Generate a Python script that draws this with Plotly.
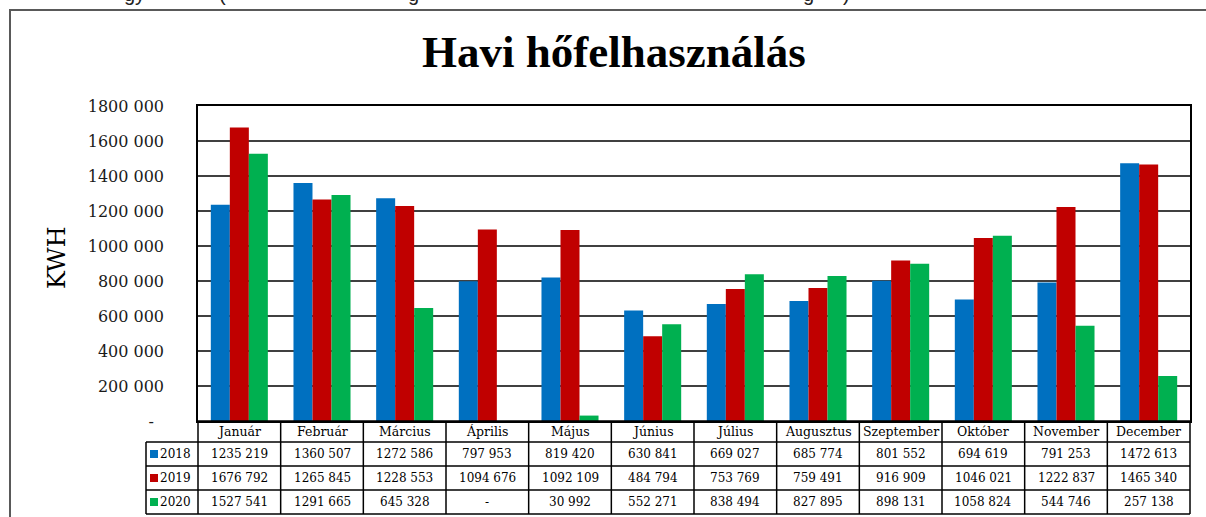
import plotly.graph_objects as go

months = ["Január", "Február", "Március", "Április", "Május", "Június",
          "Július", "Augusztus", "Szeptember", "Október", "November", "December"]
years = ["2018", "2019", "2020"]
v2018 = [1235219, 1360507, 1272586, 797953, 819420, 630841,
         669027, 685774, 801552, 694619, 791253, 1472613]
v2019 = [1676792, 1265845, 1228553, 1094676, 1092109, 484794,
         753769, 759491, 916909, 1046021, 1222837, 1465340]
v2020 = [1527541, 1291665, 645328, None, 30992, 552271,
         838494, 827895, 898131, 1058824, 544746, 257138]
colors = ["#0070C0", "#C00000", "#00B050"]
tick_vals = [0, 200000, 400000, 600000, 800000, 1000000, 1200000,
             1400000, 1600000, 1800000]
tick_text = ["-\u00a0\u00a0", "200 000", "400 000", "600 000", "800 000",
             "1000 000", "1200 000", "1400 000", "1600 000", "1800 000"]
series = [v2018, v2019, v2020]
# clipped fragments of the document line above the chart
top_glyphs = [("gy", 134), ("(", 222), ("g", 413), ("g", 808), (")", 846)]

W, H = 1206, 517
L, R, T, B = 198, 16, 106, 96
PW, PH = W - L - R, H - T - B


def px(p):
    return (p - L) / PW


def py(p):
    return (H - B - p) / PH


def fmt(v):
    if v is None:
        return "-"
    s = f"{v:,}".replace(",", " ")
    parts = s.split(" ")
    if len(parts) == 3:
        return parts[0] + parts[1] + " " + parts[2]
    return s


fig = go.Figure()
for name, vals, c in zip(years, series, colors):
    fig.add_trace(go.Bar(x=months, y=vals, name=name, marker_color=c,
                         marker_line_width=0))

serif = "DejaVu Serif"
shapes = []
ann = []

row_y = [421, 442, 466, 490, 514]
leg_left = 146
ncat = len(months)
line = dict(color="black", width=1.5)

shapes.append(dict(type="line", xref="paper", yref="paper", x0=px(L), x1=px(L + PW),
                   y0=py(row_y[0]), y1=py(row_y[0]), line=line))
for yy in row_y[1:]:
    shapes.append(dict(type="line", xref="paper", yref="paper", x0=px(leg_left),
                       x1=px(L + PW), y0=py(yy), y1=py(yy), line=line))
for i in range(ncat + 1):
    xx = L + i * PW / ncat
    shapes.append(dict(type="line", xref="paper", yref="paper", x0=px(xx), x1=px(xx),
                       y0=py(row_y[0]), y1=py(row_y[-1]), line=line))
shapes.append(dict(type="line", xref="paper", yref="paper", x0=px(leg_left),
                   x1=px(leg_left), y0=py(row_y[1]), y1=py(row_y[-1]), line=line))

for m in months:
    ann.append(dict(x=m, xref="x", yref="paper", y=py((row_y[0] + row_y[1]) / 2),
                    text=m, showarrow=False, xanchor="center", yanchor="middle",
                    font=dict(family=serif, size=12.5, color="black")))
for r, (name, vals, c) in enumerate(zip(years, series, colors)):
    yc = (row_y[r + 1] + row_y[r + 2]) / 2
    for m, v in zip(months, vals):
        ann.append(dict(x=m, xref="x", yref="paper", y=py(yc), text=fmt(v),
                        showarrow=False, xanchor="center", yanchor="middle",
                        font=dict(family=serif, size=12, color="black")))
    shapes.append(dict(type="rect", xref="paper", yref="paper", x0=px(150), x1=px(158),
                       y0=py(yc - 4), y1=py(yc + 4), fillcolor=c, line=dict(width=0)))
    ann.append(dict(x=px(158), xref="paper", yref="paper", y=py(yc), text=name,
                    xanchor="left", yanchor="middle", showarrow=False,
                    font=dict(family=serif, size=12, color="black")))

shapes.append(dict(type="path", xref="paper", yref="paper",
                   path=f"M {px(10)} {py(H + 5)} L {px(10)} {py(10)} L {px(W + 5)} {py(10)}",
                   line=dict(color="#595959", width=2)))

for g, gx in top_glyphs:
    ann.append(dict(x=px(gx), y=py(-6), xref="paper", yref="paper", text=g,
                    xanchor="center", yanchor="middle", showarrow=False,
                    font=dict(family="Liberation Sans", size=20, color="#222222")))

ann.append(dict(x=px(614), y=py(52), xref="paper", yref="paper",
                text="<b>Havi hőfelhasználás</b>", xanchor="center", yanchor="middle",
                showarrow=False, font=dict(family="Liberation Serif", size=45, color="black")))
ann.append(dict(x=px(57), y=py(258), xref="paper", yref="paper", text="KWH", textangle=-90,
                xanchor="center", yanchor="middle",
                showarrow=False, font=dict(family=serif, size=24, color="black")))

fig.update_layout(
    width=W, height=H,
    margin=dict(l=L, r=R, t=T, b=B),
    paper_bgcolor="white", plot_bgcolor="white",
    barmode="group", bargap=0.31, bargroupgap=0,
    showlegend=False,
    shapes=shapes, annotations=ann,
    xaxis=dict(showticklabels=False, showline=True, mirror=True, linecolor="black",
               linewidth=1.5, showgrid=False, ticks=""),
    yaxis=dict(range=[0, 1800000], tickvals=tick_vals, ticktext=tick_text,
               showline=True, mirror=True, linecolor="black", linewidth=1.5,
               showgrid=True, gridcolor="#404040", gridwidth=1.5, zeroline=False,
               ticks="", ticklabelstandoff=29,
               tickfont=dict(family=serif, size=16, color="#1a1a1a")),
)

fig.write_html("out.html", config={"displayModeBar": False},
               post_script="document.body.style.margin='0px';")
